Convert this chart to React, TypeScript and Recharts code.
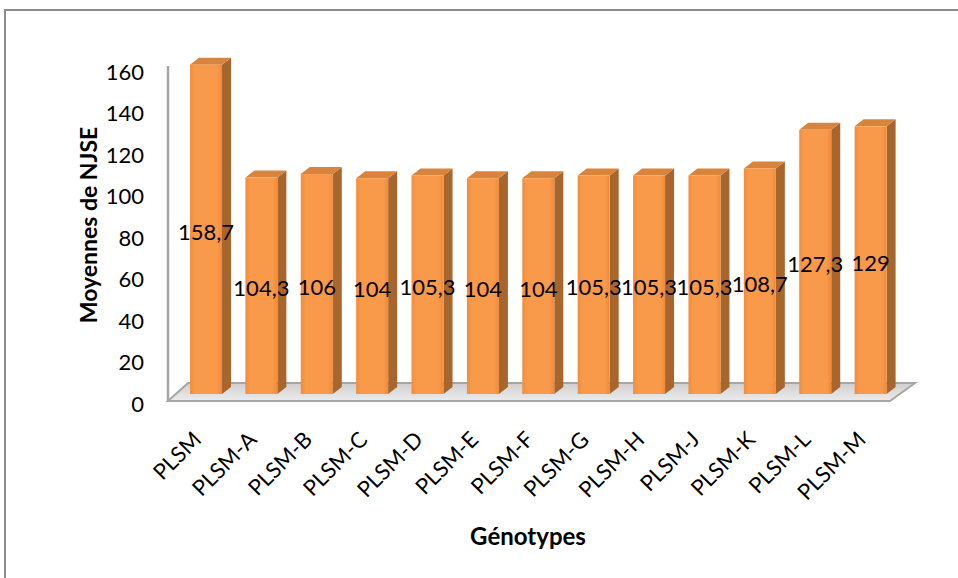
import React from "react"
import { BarChart, Bar, XAxis, YAxis, LabelList, ReferenceArea } from "recharts"

const genotypes = [
  "PLSM", "PLSM-A", "PLSM-B", "PLSM-C", "PLSM-D", "PLSM-E", "PLSM-F",
  "PLSM-G", "PLSM-H", "PLSM-J", "PLSM-K", "PLSM-L", "PLSM-M",
]
const njseMeans = [158.7, 104.3, 106, 104, 105.3, 104, 104, 105.3, 105.3, 105.3, 108.7, 127.3, 129]
const yTicks = [0, 20, 40, 60, 80, 100, 120, 140, 160]

const data = genotypes.map((name, i) => ({ name, value: njseMeans[i] }))

const FONT = "Lato, 'Open Sans', sans-serif"
const DEPTH_X = 9
const DEPTH_Y = 7

// 3D-looking column: front face, darker right side, lighter top
const Column = (props: any) => {
  const { x, y, width, height } = props
  if (height <= 0) return null
  const r = x + width
  const b = y + height
  return (
    <g>
      <polygon
        points={`${r},${y} ${r + DEPTH_X},${y - DEPTH_Y} ${r + DEPTH_X},${b - DEPTH_Y} ${r},${b}`}
        fill="#a8652c"
      />
      <polygon
        points={`${x},${y} ${x + DEPTH_X},${y - DEPTH_Y} ${r + DEPTH_X},${y - DEPTH_Y} ${r},${y}`}
        fill="#d9843c"
      />
      <rect x={x} y={y} width={width} height={height} fill="url(#frontFace)" />
    </g>
  )
}

// floor under the columns plus the left wall edge
const Floor = (props: any) => {
  const { x, y, width, height } = props
  const y0 = y + height
  const r = x + width
  return (
    <g>
      <line x1={x - 10} y1={y0 + 7} x2={x - 10} y2={y + 4} stroke="#a6a6a6" strokeWidth={2.5} />
      <polygon
        points={`${x - 10},${y0 + 7} ${x + 10},${y0 - 11} ${r + 17},${y0 - 11} ${r - 8},${y0 + 7}`}
        fill="url(#floorFill)"
        stroke="#a6a6a6"
        strokeWidth={2}
      />
    </g>
  )
}

const YTick = (props: any) => {
  const { x, y, payload } = props
  return (
    <text x={x - 16} y={y + 9} textAnchor="end" dominantBaseline="central"
      fontSize={22} fill="#000" fontFamily={FONT}>
      {payload.value}
    </text>
  )
}

const XTick = (props: any) => {
  const { x, y, payload } = props
  return (
    <g transform={`translate(${x - 9},${y + 33})`}>
      <text textAnchor="end" dominantBaseline="central" transform="rotate(-45)"
        fontSize={22} fill="#000" fontFamily={FONT}>
        {payload.value}
      </text>
    </g>
  )
}

const ValueLabel = (props: any) => {
  const { x, y, width, height, value } = props
  return (
    <text x={x + width / 2} y={y + height / 2 + 2} textAnchor="middle" dominantBaseline="central"
      fontSize={22} fill="#000" fontFamily={FONT}>
      {String(value).replace(".", ",")}
    </text>
  )
}

export default function App() {
  return (
    <div style={{ position: "absolute", left: 0, top: 0, width: 958, height: 578, overflow: "hidden", background: "#fff" }}>
      <div style={{ position: "absolute", left: 4, top: 9, width: 1100, height: 700, border: "2px solid #8c8c8c" }} />
      <BarChart
        width={958}
        height={578}
        data={data}
        margin={{ top: 62, right: 60, left: 0, bottom: 0 }}
        style={{ position: "absolute", left: 0, top: 0 }}
      >
        <defs>
          <linearGradient id="frontFace" x1="0" y1="0" x2="1" y2="0">
            <stop offset="0" stopColor="#f08c3e" />
            <stop offset="0.15" stopColor="#f99a4a" />
            <stop offset="0.85" stopColor="#f99a4a" />
            <stop offset="1" stopColor="#ee8a3c" />
          </linearGradient>
          <linearGradient id="floorFill" x1="0" y1="0" x2="0" y2="1">
            <stop offset="0" stopColor="#cfcfcf" />
            <stop offset="1" stopColor="#ececec" />
          </linearGradient>
        </defs>
        <XAxis
          dataKey="name"
          interval={0}
          axisLine={false}
          tickLine={false}
          padding={{ left: 10, right: 0 }}
          height={184}
          tick={<XTick />}
          label={{
            content: (p: any) => (
              <text x={p.viewBox.x + p.viewBox.width / 2 - 5} y={p.viewBox.y + 141}
                textAnchor="middle" dominantBaseline="central" fontSize={24} fontWeight="bold"
                fill="#000" fontFamily={FONT}>
                Génotypes
              </text>
            ),
          }}
        />
        <YAxis
          width={168}
          domain={[0, 160]}
          ticks={yTicks}
          axisLine={false}
          tickLine={false}
          tick={<YTick />}
          label={{
            content: (p: any) => {
              const cx = p.viewBox.x + 88
              const cy = p.viewBox.y + p.viewBox.height / 2 - 3
              return (
                <text x={cx} y={cy} transform={`rotate(-90, ${cx}, ${cy})`} textAnchor="middle"
                  dominantBaseline="central" fontSize={23} fontWeight="bold" fill="#000" fontFamily={FONT}>
                  Moyennes de NJSE
                </text>
              )
            },
          }}
        />
        <ReferenceArea x1="PLSM" x2="PLSM-M" y1={0} y2={160} shape={<Floor />} />
        <Bar dataKey="value" barSize={32} shape={<Column />} isAnimationActive={false}>
          <LabelList dataKey="value" content={<ValueLabel />} />
        </Bar>
      </BarChart>
    </div>
  )
}
